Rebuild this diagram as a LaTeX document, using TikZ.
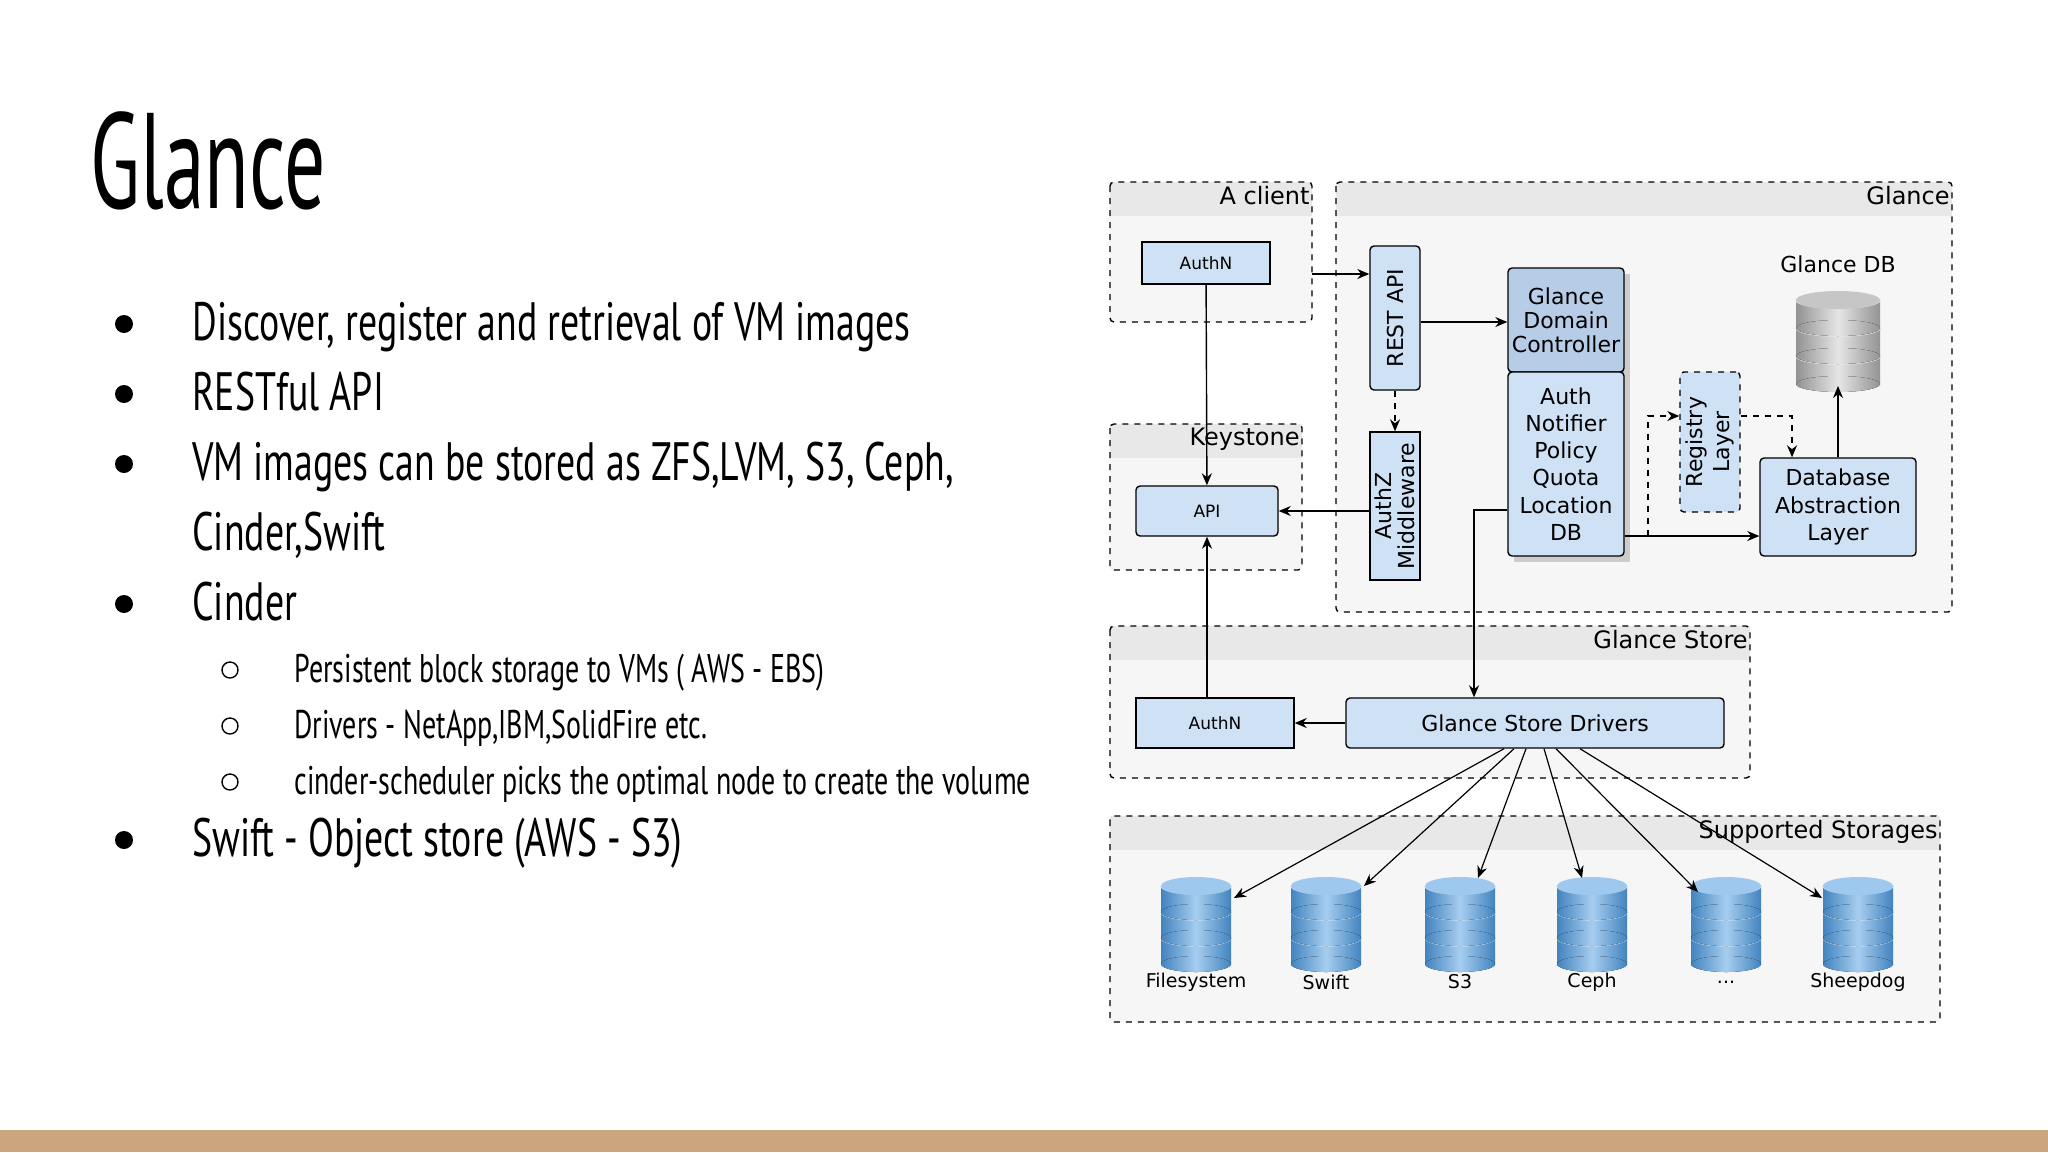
\documentclass[tikz,border=0pt]{standalone}
\usepackage{fontspec}
\setmainfont{PT Sans}[FakeStretch=0.70]
\newfontfamily\ttl{PT Sans}[FakeStretch=0.6]
\newfontfamily\djv{DejaVu Sans}
\usetikzlibrary{arrows.meta}
\definecolor{boxb}{HTML}{CFE1F4}
\definecolor{boxd}{HTML}{B7CCE6}
\definecolor{grp}{HTML}{F6F6F6}
\definecolor{grph}{HTML}{E8E8E8}
\definecolor{tan}{HTML}{CBA57E}
\definecolor{cylb}{HTML}{4E9BE0}
\begin{document}
\begin{tikzpicture}[x=1pt,y=-1pt,
  blk/.style={draw,line width=0.7pt,fill=boxb,font=\djv\fontsize{8.5}{9}\selectfont,inner sep=0},
  rblk/.style={blk,rounded corners=2pt},
  glab/.style={font=\djv\fontsize{12}{13}\selectfont,anchor=north east,inner sep=1pt},
  arr/.style={-{Stealth[length=6pt,width=5pt]},line width=0.7pt},
  darr/.style={arr,dashed},
  farr/.style={-{Stealth[length=6pt,width=5pt]},line width=0.6pt},
  slab/.style={font=\djv\fontsize{9.5}{10}\selectfont},
  bul/.style={font=\fontsize{27}{30}\selectfont,anchor=base west,inner sep=0},
  sbul/.style={font=\fontsize{20}{22}\selectfont,anchor=base west,inner sep=0}]
\useasboundingbox (0,0) rectangle (1024,576);
\fill[white] (0,0) rectangle (1024,576);
\fill[tan] (0,565) rectangle (1024,576);
% title and bullets
\node[font=\ttl\fontsize{68}{70}\selectfont,anchor=base west,inner sep=0] (title) at (45,104) {Glance};
\foreach \y/\t in {170/{Discover, register and retrieval of VM images},205/{RESTful API},240/{VM images can be stored as ZFS,LVM, S3, Ceph,},310/{Cinder},428/{Swift - Object store (AWS - S3)}}{
  \fill (62,\y-8) circle (4.5);
  \node[bul] at (96,\y) {\t};}
\node[bul] (cs) at (96,275) {Cinder,Swift};
\foreach \y/\t in {341/{Persistent block storage to VMs ( AWS - EBS)},369/{Drivers - NetApp,IBM,SolidFire etc.},397/{cinder-scheduler picks the optimal node to create the volume}}{
  \draw[line width=0.7pt] (115,\y-6) circle (4);
  \node[sbul] at (147,\y) {\t};}
% groups
\foreach \n/\a/\b/\c/\d/\l in {client/555/91/656/161/A client,glance/668/91/976/306/Glance,keystone/555/212/651/285/Keystone,gstore/555/313/875/389/Glance Store,supp/555/408/970/511/Supported Storages}{
  \fill[grp] (\a,\b) rectangle (\c,\d);
  \fill[grph] (\a,\b) rectangle (\c,\b+17);
  \draw[dashed,line width=0.7pt,rounded corners=2pt] (\a,\b) rectangle (\c,\d);
  \node[glab] (\n) at (\c,\b+1) {\l};}
% blocks
\node[blk,minimum width=64,minimum height=21] (authn) at (603,131.5) {AuthN};
\node[rblk,minimum width=71,minimum height=25] (api) at (603.5,255.5) {API};
\node[rblk,minimum width=25,minimum height=72,font=\djv\fontsize{11}{12}\selectfont] (rest) at (697.5,159) {\rotatebox{90}{REST API}};
\node[blk,minimum width=25,minimum height=74,font=\djv\fontsize{11}{11.5}\selectfont] (authz) at (697.5,253) {\rotatebox{90}{\shortstack{AuthZ\\Middleware}}};
\fill[gray!40] (757,137) rectangle (815,281);
\node[rblk,fill=boxd,minimum width=58,minimum height=52,font=\djv\fontsize{11}{12}\selectfont,align=center] (gdc) at (783,160) {Glance\\Domain\\Controller};
\node[rblk,minimum width=58,minimum height=92,font=\djv\fontsize{11}{13.6}\selectfont,align=center] (gdcl) at (783,232) {Auth\\Notifier\\Policy\\Quota\\Location\\DB};
\node[blk,dashed,rounded corners=2pt,minimum width=30,minimum height=70,font=\djv\fontsize{11}{11}\selectfont] (reg) at (855,221) {\rotatebox{90}{\shortstack{Registry\\Layer}}};
\node[rblk,minimum width=78,minimum height=49,font=\djv\fontsize{11}{13.6}\selectfont,align=center] (dal) at (919,253.5) {Database\\Abstraction\\Layer};
\node[font=\djv\fontsize{11}{12}\selectfont] (gdbl) at (919,132) {Glance DB};
% grey db cylinder
\coordinate (gdb) at (919,193);
\foreach \k in {2,1,0}{
  \fill[left color=gray!85,right color=gray!85,middle color=gray!20] (898,150+\k*14) rectangle (940,164+\k*14);
  \fill[left color=gray!85,right color=gray!85,middle color=gray!20] (919,164+\k*14) ellipse (21 and 4);
  \draw[white!80!gray,line width=0.8pt] (898,150+\k*14) arc[start angle=180,end angle=360,x radius=21,y radius=-4];}
\fill[gray!45] (919,150) ellipse (21 and 4.5);
\node[blk,minimum width=79,minimum height=25] (sauthn) at (607.5,361.5) {AuthN};
\node[rblk,minimum width=189,minimum height=25,font=\djv\fontsize{11}{12}\selectfont] (gsd) at (767.5,361.5) {Glance Store Drivers};
% storage cylinders
\foreach \n/\x/\l in {fs/598/Filesystem,sw/663/Swift,s3/730/S3,ce/796/Ceph,dd/863/{{...}},sh/929/Sheepdog}{
  \foreach \k in {2,1,0}{
    \fill[left color=cylb!85!black,right color=cylb!85!black,middle color=cylb!50] (\x-17.5,443+\k*13) rectangle (\x+17.5,456+\k*13);
    \fill[left color=cylb!85!black,right color=cylb!85!black,middle color=cylb!50] (\x,456+\k*13) ellipse (17.5 and 4);
    \draw[cylb!30,line width=0.6pt] (\x-17.5,443+\k*13) arc[start angle=180,end angle=360,x radius=17.5,y radius=-4];}
  \fill[cylb!55] (\x,443) ellipse (17.5 and 4.5);
  \coordinate (c\n) at (\x,446);
  \node[slab] (l\n) at (\x,491) {\l};}
% connectors
\coordinate (clout) at (656,137);
\draw[arr] (clout) -- (rest.west |- clout);
\draw[arr] (authn) -- (api);
\coordinate (r1) at (0,161);
\draw[arr] (rest.east |- r1) -- (gdc.west |- r1);
\draw[darr] (rest) -- (authz);
\draw[arr] (authz.west |- api) -- (api);
\coordinate (g1) at (737,255);
\draw[arr] (gdcl.west |- g1) -| (gsd.north -| g1);
\coordinate (g2) at (824,268);
\draw[arr] (gdcl.east |- g2) -- (dal.west |- g2);
\coordinate (g3) at (896,208);
\draw[darr] (g2) |- (reg.west |- g3);
\draw[darr] (reg.east |- g3) -| (dal.north -| g3);
\draw[arr] (dal) -- (gdb);
\draw[arr] (sauthn.north -| api) -- (api);
\draw[arr] (gsd) -- (sauthn);
\draw[farr] (gsd.south -| 752,0) -- ([shift={(19,3)}]cfs);
\draw[farr] (gsd.south -| 757,0) -- ([shift={(19,-3)}]csw);
\draw[farr] (gsd.south -| 763,0) -- ([shift={(9,-7)}]cs3);
\draw[farr] (gsd.south -| 772,0) -- ([shift={(-5,-7)}]cce);
\draw[farr] (gsd.south -| 778,0) -- ([shift={(-14,0)}]cdd);
\draw[farr] (gsd.south -| 790,0) -- ([shift={(-18,3)}]csh);
\end{tikzpicture}
\end{document}
